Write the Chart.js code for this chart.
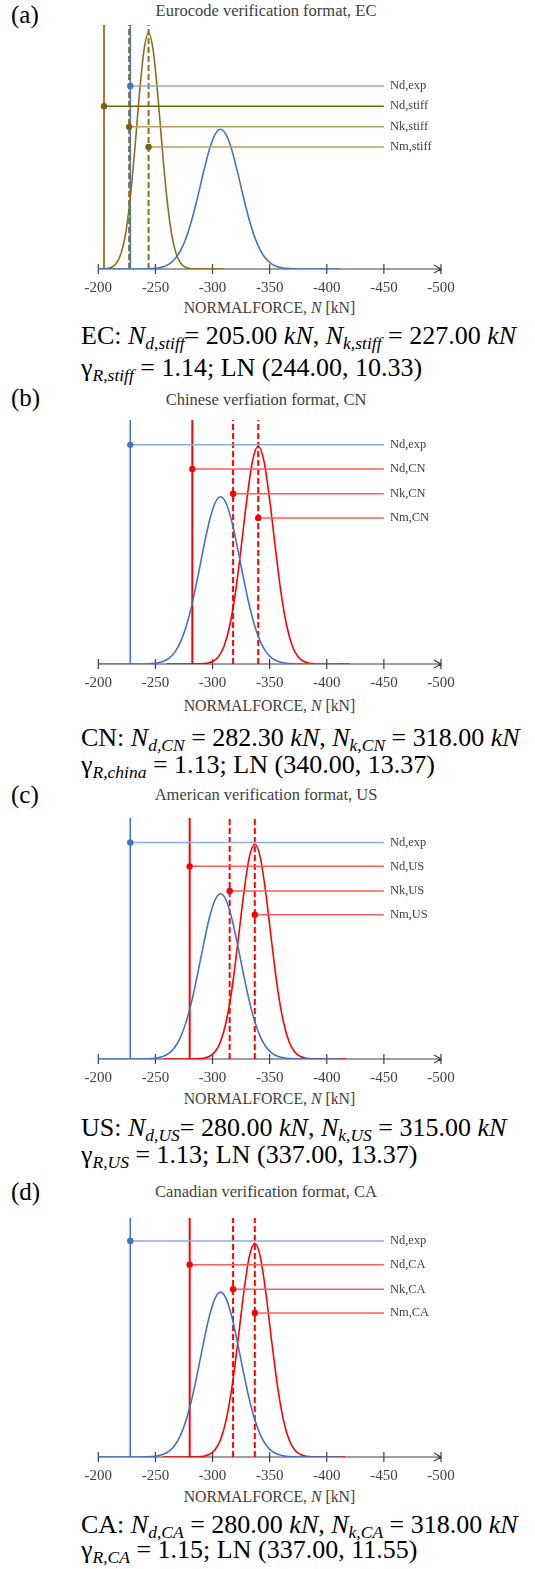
<!DOCTYPE html>
<html>
<head>
<meta charset="utf-8">
<script src="https://cdn.jsdelivr.net/npm/chart.js@4.4.1/dist/chart.umd.min.js"></script>
<style>
  body { margin: 0; background: #fff; }
  #page { position: relative; width: 535px; height: 1569px; font-family: "Liberation Serif", "Times New Roman", serif; }
  .box { position: absolute; }
  .tag { position: absolute; left: 11px; font-size: 25px; line-height: 28px; color: #000; }
  .ttl { position: absolute; left: 0; width: 532px; text-align: center; font-size: 16.5px; line-height: 18px; color: #404040; }
  .axt { position: absolute; left: 0; width: 539px; text-align: center; font-size: 15.8px; line-height: 18px; color: #404040; }
  .cap { position: absolute; left: 81px; font-size: 26px; line-height: 30px; color: #000; white-space: nowrap; }
  .cap sub { font-size: 17.5px; vertical-align: -5px; line-height: 0; }
</style>
</head>
<body>
<div id="page"></div>
<script>
// x axis: normal force in kN (compression negative)
var axisMin = -500, axisMax = -200, axisStep = 50;

// experimental resistance, drawn in every panel
var expN = [-200, -237, -247, -252, -257, -262, -267, -272, -277, -282, -287, -292, -297, -302, -307,
  -312, -317, -322, -327, -332, -337, -342, -347, -352, -357, -362, -367, -377, -412];
var expDensity = [0, 0.00001, 0.00006, 0.00016, 0.00037, 0.00081, 0.00163, 0.00303, 0.00518, 0.00816, 0.01183, 0.01579, 0.01941, 0.02197, 0.0229,
  0.02197, 0.01941, 0.01579, 0.01183, 0.00816, 0.00518, 0.00303, 0.00163, 0.00081, 0.00037, 0.00016, 0.00006, 0.00001, 0];
var ndExp = -228;

// (a) Eurocode, LN(244, 10.33)
var ecN = [-200, -204, -208, -212, -216, -220, -224, -228, -232, -236, -240, -244,
  -248, -252, -256, -260, -264, -268, -272, -276, -280, -284, -310];
var ecDensity = [0, 0.00002, 0.00009, 0.00032, 0.00098, 0.0026, 0.0059, 0.0117, 0.0197, 0.0287, 0.0359, 0.0387,
  0.0359, 0.0287, 0.0197, 0.0117, 0.0059, 0.0026, 0.00098, 0.00032, 0.00009, 0.00002, 0];
var ecMarks = [-205, -227, -244];            // Nd, Nk, Nm
var ecLabels = ['Nd,exp', 'Nd,stiff', 'Nk,stiff', 'Nm,stiff'];

// (b) Chinese, LN(340, 13.37)
var cnN = [-260, -290, -295, -300, -305, -310, -315, -320, -325, -330, -335, -340,
  -345, -350, -355, -360, -365, -370, -375, -380, -385, -390, -420];
var cnDensity = [0, 0.00003, 0.0001, 0.00034, 0.00097, 0.0024, 0.0052, 0.0097, 0.0159, 0.0225, 0.0278, 0.0298,
  0.0278, 0.0225, 0.0159, 0.0097, 0.0052, 0.0024, 0.00097, 0.00034, 0.0001, 0.00003, 0];
var cnMarks = [-282.3, -318, -340];
var cnLabels = ['Nd,exp', 'Nd,CN', 'Nk,CN', 'Nm,CN'];

// (c) American, LN(337, 13.37)
var usN = [-257, -287, -292, -297, -302, -307, -312, -317, -322, -327, -332, -337,
  -342, -347, -352, -357, -362, -367, -372, -377, -382, -387, -417];
var usDensity = [0, 0.00003, 0.0001, 0.00034, 0.00097, 0.0024, 0.0052, 0.0097, 0.0159, 0.0225, 0.0278, 0.0298,
  0.0278, 0.0225, 0.0159, 0.0097, 0.0052, 0.0024, 0.00097, 0.00034, 0.0001, 0.00003, 0];
var usMarks = [-280, -315, -337];
var usLabels = ['Nd,exp', 'Nd,US', 'Nk,US', 'Nm,US'];

// (d) Canadian, LN(337, 11.55)
var caN = [-257, -287, -292, -297, -302, -307, -312, -317, -322, -327, -332, -337,
  -342, -347, -352, -357, -362, -367, -372, -377, -382, -387, -416];
var caDensity = [0, 0.00003, 0.0001, 0.00034, 0.00096, 0.0024, 0.0052, 0.0097, 0.0158, 0.0224, 0.0277, 0.0297,
  0.0277, 0.0224, 0.0158, 0.0097, 0.0052, 0.0024, 0.00096, 0.00034, 0.0001, 0.00003, 0];
var caMarks = [-280, -318, -337];
var caLabels = ['Nd,exp', 'Nd,CA', 'Nk,CA', 'Nm,CA'];

// heights of the labelled marker lines, and where they end
var labelLevels = [0.030, 0.0267, 0.0233, 0.020];
var labelEnd = -450;

var BLUE = '#4472c4', BLUE_SOFT = '#8eaadb';
var GOLD = '#8c6d1f', GOLD_DARK = '#7f6000', GOLD_SOFT = '#b5a064';
var RED = '#ff0000', RED_SOFT = '#ff5c5c';
var SERIF = "'Liberation Serif', 'Times New Roman', serif";

var panels = [
  { tag: '(a)', title: 'Eurocode verification format, EC', n: ecN, d: ecDensity, marks: ecMarks, labels: ecLabels,
    ymax: 0.040, color: GOLD, solid: GOLD_DARK, soft: [GOLD_DARK, GOLD_SOFT, GOLD_SOFT], dot: GOLD_DARK, solidWidth: 1.6,
    top: 25, axis: 269, tagY: 15, titleY: 11, axtY: 308, capY: [336, 368],
    cap: ['EC: <i>N</i><sub><i>d</i>,<i>stiff</i></sub>= 205.00 <i>kN</i>, <i>N</i><sub><i>k,stiff</i></sub> = 227.00 <i>kN</i>',
          '\u03b3<sub><i>R,stiff</i></sub> = 1.14; LN (244.00, 10.33)'] },
  { tag: '(b)', title: 'Chinese verfiation format, CN', n: cnN, d: cnDensity, marks: cnMarks, labels: cnLabels,
    ymax: 0.0334, color: RED, solid: RED, soft: [RED_SOFT, RED_SOFT, RED_SOFT], dot: RED, solidWidth: 2,
    top: 420, axis: 664, tagY: 398, titleY: 400, axtY: 706, capY: [738, 765],
    cap: ['CN: <i>N</i><sub><i>d,CN</i></sub> = 282.30 <i>kN</i>, <i>N</i><sub><i>k,CN</i></sub> = 318.00 <i>kN</i>',
          '\u03b3<sub><i>R,china</i></sub> = 1.13; LN (340.00, 13.37)'] },
  { tag: '(c)', title: 'American verification format, US', n: usN, d: usDensity, marks: usMarks, labels: usLabels,
    ymax: 0.0334, color: RED, solid: RED, soft: [RED_SOFT, RED_SOFT, RED_SOFT], dot: RED, solidWidth: 2,
    top: 818, axis: 1059, tagY: 795, titleY: 795, axtY: 1099, capY: [1128, 1155],
    cap: ['US: <i>N</i><sub><i>d,US</i></sub>= 280.00 <i>kN</i>, <i>N</i><sub><i>k,US</i></sub> = 315.00 <i>kN</i>',
          '\u03b3<sub><i>R,US</i></sub> = 1.13; LN (337.00, 13.37)'] },
  { tag: '(d)', title: 'Canadian verification format, CA', n: caN, d: caDensity, marks: caMarks, labels: caLabels,
    ymax: 0.0332, color: RED, solid: RED, soft: [RED_SOFT, RED_SOFT, RED_SOFT], dot: RED, solidWidth: 2,
    top: 1218, axis: 1457, tagY: 1192, titleY: 1192, axtY: 1497, capY: [1525, 1550],
    cap: ['CA: <i>N</i><sub><i>d,CA</i></sub> = 280.00 <i>kN</i>, <i>N</i><sub><i>k,CA</i></sub> = 318.00 <i>kN</i>',
          '\u03b3<sub><i>R,CA</i></sub> = 1.15; LN (337.00, 11.55)'] }
];

var TICK_PAD = 10, PAD_TOP = 6;

Chart.defaults.font.family = SERIF;
Chart.defaults.font.size = 15;
Chart.defaults.color = '#404040';

function pairs(xs, ys) {
  return xs.map(function (x, i) { return { x: x, y: ys[i] }; });
}

function curve(xs, ys, color) {
  return { data: pairs(xs, ys), borderColor: color, borderWidth: 1.6, pointRadius: 0,
    cubicInterpolationMode: 'monotone', order: 1 };
}

function vline(x, ymax, color, width, dash) {
  return { data: [{ x: x, y: 0 }, { x: x, y: ymax }], borderColor: color, borderWidth: width,
    borderDash: dash || [], pointRadius: 0, order: 2 };
}

function marker(x, level, lineColor, dotColor, text) {
  return { data: [{ x: x, y: level }, { x: labelEnd, y: level }], borderColor: lineColor, borderWidth: 1.5,
    pointRadius: [3.2, 0], pointBackgroundColor: dotColor, pointBorderWidth: 0, labelText: text, order: 0 };
}

// axis line with crossing ticks and an arrow head at -500
var axisArrow = {
  id: 'axisArrow',
  beforeDatasetsDraw: function (chart) {
    var ctx = chart.ctx, x = chart.scales.x, y = chart.scales.y;
    var y0 = y.getPixelForValue(0);
    var xl = x.getPixelForValue(axisMax), xr = x.getPixelForValue(axisMin);
    ctx.save();
    ctx.strokeStyle = '#404040';
    ctx.lineWidth = 1.2;
    ctx.beginPath();
    ctx.moveTo(xl, y0); ctx.lineTo(xr, y0);
    x.ticks.forEach(function (t) {
      var px = x.getPixelForValue(t.value);
      ctx.moveTo(px, y0 - 5); ctx.lineTo(px, y0 + 5);
    });
    ctx.moveTo(xr - 7, y0 - 4); ctx.lineTo(xr, y0); ctx.lineTo(xr - 7, y0 + 4);
    ctx.stroke();
    ctx.restore();
  }
};

// names written after the marker lines
var markerText = {
  id: 'markerText',
  afterDatasetsDraw: function (chart) {
    var ctx = chart.ctx;
    ctx.save();
    ctx.font = '12.5px ' + SERIF;
    ctx.fillStyle = '#404040';
    ctx.textBaseline = 'middle';
    chart.data.datasets.forEach(function (ds) {
      if (!ds.labelText) return;
      var px = chart.scales.x.getPixelForValue(labelEnd) + 6;
      var py = chart.scales.y.getPixelForValue(ds.data[0].y);
      ctx.fillText(ds.labelText, px, py);
    });
    ctx.restore();
  }
};

var page = document.getElementById('page');

function addDiv(cls, top, html) {
  var el = document.createElement('div');
  el.className = cls;
  el.style.top = top + 'px';
  el.innerHTML = html;
  page.appendChild(el);
  return el;
}

panels.forEach(function (p) {
  addDiv('tag', p.tagY - 14, p.tag);
  addDiv('ttl', p.titleY - 9, p.title);
  addDiv('axt', p.axtY - 9, 'NORMALFORCE, <i>N</i> [kN]');
  addDiv('cap', p.capY[0] - 15, p.cap[0]);
  addDiv('cap', p.capY[1] - 15, p.cap[1]);

  var box = document.createElement('div');
  box.className = 'box';
  box.style.left = '40px';
  box.style.top = (p.top - PAD_TOP) + 'px';
  box.style.width = '460px';
  var boxH = p.axis - p.top + PAD_TOP + 40;
  box.style.height = boxH + 'px';
  var cv = document.createElement('canvas');
  box.appendChild(cv);
  page.appendChild(box);

  var sets = [];
  sets.push(curve(expN, expDensity, BLUE));
  sets.push(curve(p.n, p.d, p.color));
  sets.push(vline(ndExp, p.ymax, BLUE, 1.6));
  sets.push(vline(p.marks[0], p.ymax, p.solid, p.solidWidth));
  sets.push(vline(p.marks[1], p.ymax, p.color, 2, [6, 3]));
  sets.push(vline(p.marks[2], p.ymax, p.color, 2, [6, 3]));
  sets.push(marker(ndExp, labelLevels[0], BLUE_SOFT, BLUE, p.labels[0]));
  for (var i = 0; i < 3; i++) {
    sets.push(marker(p.marks[i], labelLevels[i + 1], p.soft[i], p.dot, p.labels[i + 1]));
  }

  var chart = new Chart(cv, {
    type: 'scatter',
    data: { datasets: sets.map(function (s) { s.showLine = true; return s; }) },
    plugins: [axisArrow, markerText],
    options: {
      animation: false,
      responsive: true,
      maintainAspectRatio: false,
      layout: { padding: { left: 58.3, right: 59, top: PAD_TOP, bottom: 2 } },
      plugins: { legend: { display: false }, tooltip: { enabled: false } },
      scales: {
        x: {
          type: 'linear', min: axisMin, max: axisMax, reverse: true,
          grid: { display: false, drawTicks: false },
          border: { display: false },
          ticks: { stepSize: axisStep, padding: TICK_PAD, color: '#404040',
            font: { family: SERIF, size: 15 } }
        },
        y: { display: false, min: 0, max: p.ymax }
      }
    }
  });

  // stretch the box so the plot bottom sits on the wanted axis line
  var diff = (p.axis - p.top + PAD_TOP) - chart.chartArea.bottom;
  if (Math.abs(diff) > 0.5) {
    box.style.height = (boxH + diff) + 'px';
    chart.resize();
  }
});
</script>
</body>
</html>
